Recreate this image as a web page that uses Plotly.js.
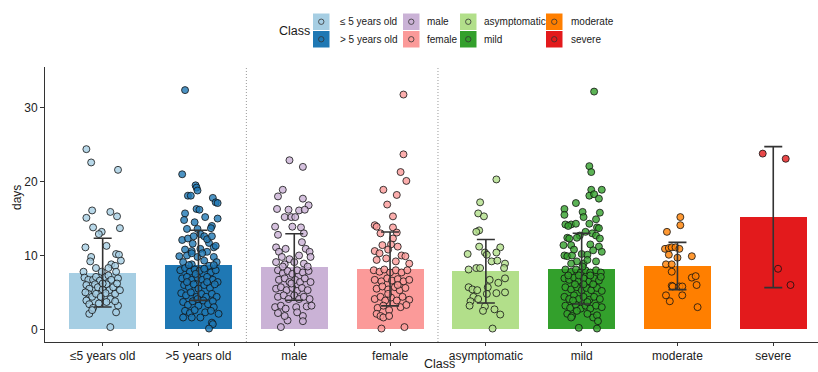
<!DOCTYPE html>
<html>
<head>
<meta charset="utf-8">
<script src="https://cdn.plot.ly/plotly-3.0.1.min.js"></script>
<style>html,body{margin:0;padding:0;background:#fff;}#chart{width:818px;height:372px;}</style>
</head>
<body>
<div id="chart"></div>
<script>
// ---------------- data ----------------
const categories = ['≤5 years old', '>5 years old', 'male', 'female', 'asymptomatic', 'mild', 'moderate', 'severe'];
const legendLabels = ['≤ 5 years old', '> 5 years old', 'male', 'female', 'asymptomatic', 'mild', 'moderate', 'severe'];
const meanDays = [7.68, 8.67, 8.44, 8.17, 7.86, 8.22, 8.58, 15.2];
const sdDays = [4.65, 4.75, 4.5, 5.0, 4.3, 4.8, 3.2, 9.55];

// individual observations: [jitter offset, days]
const ptsLe5 = [[-0.17,24.4],[-0.12,22.6],[0.16,21.6],[-0.11,16.1],[0.08,15.9],[-0.17,15.1],[0.15,15.3],[-0.10,13.8],[0.18,13.7],[-0.01,13.2],
 [-0.04,12.9],[-0.18,11.1],[0.04,11.3],[-0.12,9.8],[0.14,10.2],[0.17,10.1],[0.19,9.3],[-0.13,9.2],[-0.20,7.8],[0.09,8.8],
 [0.13,8.6],[-0.19,7.0],[-0.15,6.7],[-0.10,6.7],[-0.07,7.1],[-0.03,6.6],[0.02,7.1],[0.06,7.3],[0.09,6.7],[0.14,7.8],
 [0.16,6.9],[-0.17,6.0],[-0.14,5.5],[-0.08,6.1],[-0.05,5.7],[0.0,5.4],[0.04,6.1],[0.07,5.3],[0.11,5.7],[0.15,6.2],
 [-0.15,4.8],[-0.11,4.4],[-0.07,4.8],[-0.02,4.4],[0.03,4.9],[0.08,4.1],[0.13,4.8],[-0.17,3.9],[-0.14,3.4],[-0.10,2.9],
 [-0.14,2.1],[-0.11,2.6],[0.16,3.2],[0.14,2.3],[0.08,0.3],[0.0,6.2],[-0.01,7.8],[-0.07,8.3],[0.06,8.3],[0.18,5.3],
 [0.13,3.8],[0.04,3.7],[-0.04,3.5],[-0.18,5.0]];
const ptsGt5 = [[-0.14,32.4],[-0.17,21.0],[-0.03,19.5],[-0.02,19.2],[-0.01,18.8],[-0.11,18.1],[-0.08,18.1],[0.15,17.8],[0.18,17.2],[0.20,17.1],
 [-0.02,16.3],[0.01,16.2],[-0.14,15.7],[0.07,15.2],[0.20,15.0],[-0.15,14.8],[-0.04,14.5],[0.14,14.0],[-0.12,13.6],[-0.01,13.6],
 [0.13,13.7],[0.02,12.9],[0.06,12.6],[-0.17,12.1],[-0.11,12.3],[-0.06,11.6],[0.11,11.7],[0.16,11.1],[0.18,11.3],[-0.14,10.8],
 [-0.07,10.6],[0.02,10.9],[0.09,10.5],[-0.20,9.9],[-0.12,10.0],[-0.01,9.8],[0.06,9.3],[0.16,9.8],[0.19,9.1],[-0.16,9.1],
 [-0.07,8.8],[0.11,8.6],[-0.19,8.0],[-0.14,8.3],[-0.09,7.8],[-0.04,8.1],[0.01,7.9],[0.06,8.2],[0.13,7.7],[0.18,8.0],
 [-0.17,6.9],[-0.12,7.1],[-0.07,6.7],[-0.01,7.0],[0.04,6.7],[0.09,7.1],[0.15,6.7],[0.20,6.4],
 [-0.15,6.0],[-0.10,5.7],[-0.05,6.1],[0.0,5.5],[0.06,6.0],[0.12,5.6],[0.17,6.1],
 [-0.18,4.9],[-0.13,4.6],[-0.08,5.0],[-0.02,4.4],[0.03,4.8],[0.08,4.4],[0.14,4.8],[0.19,4.4],
 [-0.16,3.7],[-0.11,3.3],[-0.06,3.8],[0.0,3.2],[0.05,3.9],[0.10,3.4],[0.15,3.8],
 [-0.14,2.5],[-0.09,2.2],[-0.04,2.6],[0.07,2.3],[0.16,3.0],[0.21,2.1],
 [-0.16,1.6],[-0.07,1.6],[0.14,0.9],[0.15,0.7],[0.11,0.1],
 [-0.10,8.7],[-0.03,7.5],[0.09,6.4],[-0.12,6.4],[-0.01,4.1],[0.13,2.5],[0.02,1.6],[0.16,8.7],[-0.07,10.3],[0.04,10.3],
 [-0.05,12.6],[0.09,12.2],[0.14,12.6]];
const ptsMale = [[-0.05,22.9],[0.09,22.0],[-0.12,18.9],[-0.17,18.0],[0.09,17.7],[0.15,16.8],[-0.18,16.3],[-0.06,16.2],[0.05,16.1],[0.11,16.2],
 [-0.10,15.2],[-0.03,15.2],[0.01,15.2],[-0.20,13.9],[-0.02,13.9],[0.07,13.8],[-0.17,12.8],[0.10,13.0],[0.08,11.8],[0.12,10.9],
 [-0.19,11.1],[-0.16,10.5],[-0.09,10.9],[0.16,10.5],[-0.13,9.8],[-0.05,9.5],[0.05,10.0],[0.17,9.8],[-0.19,9.1],[-0.10,8.8],
 [0.0,9.1],[0.10,8.9],
 [-0.17,8.0],[-0.12,7.6],[-0.07,7.9],[-0.02,7.5],[0.03,8.0],[0.09,7.7],[0.15,7.9],
 [-0.16,6.7],[-0.10,6.9],[-0.05,6.4],[0.01,6.7],[0.06,6.4],[0.11,6.9],[0.17,6.4],
 [-0.19,5.5],[-0.14,5.7],[-0.08,5.3],[-0.02,5.6],[0.03,5.2],[0.08,5.6],[0.14,5.3],
 [-0.17,4.4],[-0.11,4.6],[-0.06,4.1],[0.0,4.6],[0.05,4.1],[0.10,4.4],[0.16,4.1],
 [-0.20,3.0],[-0.14,3.2],[-0.09,2.8],[0.02,3.0],[0.13,3.1],[0.18,3.2],
 [-0.17,2.2],[-0.07,1.2],[0.09,1.8],[0.09,1.1],[-0.14,0.3],[-0.10,1.8],[0.03,2.3],[-0.03,6.2],[-0.12,8.5],[0.14,8.5]];
const ptsFemale = [[0.14,31.8],[0.14,23.7],[0.11,21.3],[0.17,20.1],[-0.07,18.9],[0.07,18.2],[-0.03,16.9],[0.03,15.3],[-0.16,14.1],[-0.14,13.9],
 [0.03,13.8],[-0.10,13.0],[0.07,13.1],[0.03,12.3],[-0.08,11.4],[0.01,11.5],[0.08,11.2],[-0.16,10.6],[-0.11,10.3],[-0.02,10.8],
 [0.12,10.0],[0.16,9.9],[-0.14,9.4],[-0.04,9.6],[0.06,9.2],[0.20,8.9],
 [-0.17,8.0],[-0.11,7.8],[-0.06,8.1],[0.0,7.7],[0.06,8.0],[0.12,7.7],[0.18,8.0],
 [-0.16,6.7],[-0.09,6.5],[-0.03,6.9],[0.02,6.6],[0.08,6.8],[0.14,6.5],[0.20,6.7],
 [-0.14,5.5],[-0.08,5.8],[-0.02,5.4],[0.05,5.7],[0.10,5.3],[0.16,5.6],
 [-0.16,4.1],[-0.10,4.4],[-0.05,3.9],[0.01,4.3],[0.07,3.9],[0.13,4.4],[0.20,4.0],
 [-0.13,2.9],[-0.07,3.2],[-0.01,2.6],[0.11,3.0],[0.17,3.3],
 [-0.14,2.1],[-0.10,1.8],[-0.07,1.6],[-0.01,1.8],[-0.09,0.1],[0.15,0.3],[-0.02,4.8],[0.08,6.0]];
const ptsAsym = [[0.11,20.3],[-0.06,17.2],[-0.08,15.7],[-0.02,15.3],[-0.07,13.4],[-0.10,13.2],[-0.07,11.2],[0.15,11.1],[-0.19,10.2],[-0.01,10.4],
 [0.01,10.1],[0.11,10.4],[0.06,9.2],[0.12,9.3],[0.20,8.9],[-0.10,8.3],[-0.06,8.3],[-0.18,8.1],[0.19,8.3],[0.20,6.9],
 [0.04,6.7],[0.13,6.3],[-0.18,5.7],[-0.14,5.4],[-0.09,5.3],[0.02,5.7],[0.20,5.0],[0.11,4.9],[0.01,4.8],[-0.13,4.4],
 [-0.08,4.1],[-0.16,3.8],[-0.17,3.2],[-0.01,3.1],[-0.03,2.5],[0.09,2.7],[0.15,2.0],[0.07,0.1]];
const ptsMild = [[0.13,32.2],[0.08,22.1],[0.10,21.3],[0.10,18.9],[0.21,18.9],[0.08,18.1],[0.13,18.3],[0.18,17.7],[-0.06,17.1],[-0.18,16.3],
 [-0.18,15.5],[0.01,15.9],[0.02,15.2],[0.19,15.8],[-0.11,14.2],[-0.17,14.2],[-0.14,14.0],[-0.06,14.3],[0.08,14.3],[0.15,14.9],
 [0.16,13.8],[0.18,13.7],[0.04,13.2],[-0.02,12.7],[0.11,13.0],[0.15,12.7],[-0.15,12.4],[-0.13,12.3],[-0.05,12.4],[0.19,12.3],
 [-0.19,11.4],[-0.11,11.4],[0.09,11.5],[0.18,11.2],[0.12,10.7],[-0.18,10.0],[-0.15,9.9],[-0.10,10.0],[0.0,10.2],[0.06,10.1],
 [0.21,10.5],[-0.05,9.2],[0.02,8.9],[0.15,9.2],[-0.11,8.9],
 [-0.17,8.1],[-0.11,7.8],[-0.06,8.1],[-0.01,7.7],[0.04,8.0],[0.09,7.7],[0.15,8.0],[0.20,7.7],
 [-0.18,6.9],[-0.13,6.7],[-0.08,7.0],[-0.03,6.6],[0.02,6.9],[0.08,6.5],[0.13,6.9],[0.18,6.6],
 [-0.17,5.7],[-0.11,5.4],[-0.05,5.7],[0.0,5.3],[0.05,5.6],[0.10,5.3],[0.16,5.6],[0.21,5.2],
 [-0.18,4.4],[-0.13,4.1],[-0.08,4.6],[-0.03,4.1],[0.02,4.4],[0.08,4.0],[0.13,4.4],[0.19,4.1],
 [-0.17,3.2],[-0.12,2.9],[-0.06,3.3],[-0.01,2.8],[0.04,3.2],[0.09,2.8],[0.15,3.2],[0.21,3.0],
 [-0.15,2.1],[-0.10,1.8],[0.06,2.1],[0.12,1.6],[0.16,1.9],[-0.11,1.6],[-0.03,0.2],[0.16,0.1],[0.17,1.1],
 [-0.07,6.1],[0.02,6.1],[0.12,6.1],[-0.14,7.3],[-0.03,7.3],[0.09,7.3],[0.20,7.1],[-0.09,3.9],[0.06,3.7],[-0.05,2.5],
 [0.01,8.5],[0.06,9.4],[-0.08,10.8]];
const ptsModerate = [[0.03,15.2],[0.03,14.1],[-0.11,13.2],[-0.13,10.9],[-0.09,11.0],[-0.06,11.1],[-0.02,11.1],[0.02,10.9],[-0.09,10.1],[0.0,9.7],
 [0.15,9.9],[-0.12,8.8],[-0.06,8.8],[-0.06,7.8],[0.15,7.0],[0.19,7.2],[0.20,6.0],[-0.06,5.9],[-0.05,5.8],[0.02,5.8],
 [0.05,5.8],[-0.12,4.6],[0.05,4.6],[-0.08,3.8],[0.21,3.0]];
const ptsSevere = [[-0.11,23.8],[0.13,23.1],[0.05,8.2],[0.18,6.0]];
const pointGroups = [ptsLe5, ptsGt5, ptsMale, ptsFemale, ptsAsym, ptsMild, ptsModerate, ptsSevere];

// ---------------- styles ----------------
const colors = ['#A6CEE3', '#1F78B4', '#CAB2D6', '#FB9A99', '#B2DF8A', '#33A02C', '#FF7F00', '#E31A1C'];
const FONT = 'Liberation Sans, Arial, Helvetica, sans-serif';
const W = 818, H = 372;
const M = {l: 45, r: 0, t: 67, b: 30};
const PW = W - M.l - M.r, PH = H - M.t - M.b;
const px2x = p => (p - M.l) / PW;
const px2y = p => (H - M.b - p) / PH;
function rgba(hex, a) {
  const n = parseInt(hex.slice(1), 16);
  return `rgba(${(n >> 16) & 255},${(n >> 8) & 255},${n & 255},${a})`;
}

const idx = categories.map((c, i) => i);
const traces = [];
traces.push({
  type: 'bar', x: idx, y: meanDays, width: 0.7,
  marker: {color: colors, line: {width: 0}},
  hoverinfo: 'skip', showlegend: false
});
pointGroups.forEach((g, i) => {
  traces.push({
    type: 'scatter', mode: 'markers',
    x: g.map(p => i + p[0]), y: g.map(p => p[1]),
    marker: {size: 7, color: rgba(colors[i], 0.8), line: {color: '#111', width: 0.8}},
    hoverinfo: 'skip', showlegend: false
  });
});
traces.push({
  type: 'scatter', mode: 'markers', x: idx, y: meanDays,
  marker: {size: 1, color: 'rgba(0,0,0,0)'},
  error_y: {type: 'data', array: sdDays, visible: true, color: '#333', thickness: 1.6, width: 9},
  hoverinfo: 'skip', showlegend: false
});

// separators
const shapes = [1.5, 3.5].map(v => ({
  type: 'line', xref: 'x', yref: 'paper', x0: v, x1: v, y0: 0, y1: 1,
  line: {color: '#9a9a9a', width: 1, dash: '1px,2px'}, layer: 'below'
}));

// manual legend (2 rows x 4 columns)
const annotations = [];
const keyX = [313, 403, 460, 546];
const textX = [338, 425, 482, 569];
const rowTop = [13.5, 31];
const KS = 16.5;
categories.forEach((c, i) => {
  const col = Math.floor(i / 2), row = i % 2;
  const x0 = keyX[col], y0 = rowTop[row];
  shapes.push({type: 'rect', xref: 'paper', yref: 'paper',
    x0: px2x(x0), x1: px2x(x0 + KS), y0: px2y(y0), y1: px2y(y0 + KS),
    fillcolor: colors[i], line: {width: 0}});
  const cx = x0 + KS / 2, cy = y0 + KS / 2, r = 2.7;
  shapes.push({type: 'circle', xref: 'paper', yref: 'paper',
    x0: px2x(cx - r), x1: px2x(cx + r), y0: px2y(cy - r), y1: px2y(cy + r),
    fillcolor: rgba(colors[i], 0.8), line: {color: '#333', width: 0.8}});
  annotations.push({xref: 'paper', yref: 'paper', x: px2x(textX[col]), y: px2y(cy),
    xanchor: 'left', yanchor: 'middle', showarrow: false, text: legendLabels[i],
    font: {family: FONT, size: 10, color: '#1a1a1a'}});
});
annotations.push({xref: 'paper', yref: 'paper', x: px2x(277), y: px2y(31),
  xanchor: 'left', yanchor: 'middle', showarrow: false, text: 'Class',
  font: {family: FONT, size: 12.5, color: '#1a1a1a'}});
// axis titles
annotations.push({xref: 'paper', yref: 'paper', x: px2x(439), y: px2y(364),
  xanchor: 'center', yanchor: 'middle', showarrow: false, text: 'Class',
  font: {family: FONT, size: 12.5, color: '#1a1a1a'}});
annotations.push({xref: 'paper', yref: 'paper', x: px2x(17), y: px2y(198),
  xanchor: 'center', yanchor: 'middle', showarrow: false, text: 'days', textangle: -90,
  font: {family: FONT, size: 12, color: '#1a1a1a'}});

const axisCommon = {
  showline: true, linecolor: '#333', linewidth: 1,
  ticks: 'outside', ticklen: 4, tickwidth: 1, tickcolor: '#333',
  showgrid: false, zeroline: false, automargin: false,
  tickfont: {family: FONT, size: 12, color: '#222'}
};
const layout = {
  width: W, height: H, margin: M,
  paper_bgcolor: '#fff', plot_bgcolor: '#fff',
  showlegend: false, bargap: 0,
  xaxis: Object.assign({}, axisCommon, {
    range: [-0.602, 7.467], tickmode: 'array', tickvals: idx, ticktext: categories, ticklen: 3
  }),
  yaxis: Object.assign({}, axisCommon, {
    range: [-1.72, 35.53], tickmode: 'array', tickvals: [0, 10, 20, 30]
  }),
  shapes: shapes, annotations: annotations,
  font: {family: FONT}
};
Plotly.newPlot('chart', traces, layout, {staticPlot: true, displayModeBar: false});
</script>
</body>
</html>
